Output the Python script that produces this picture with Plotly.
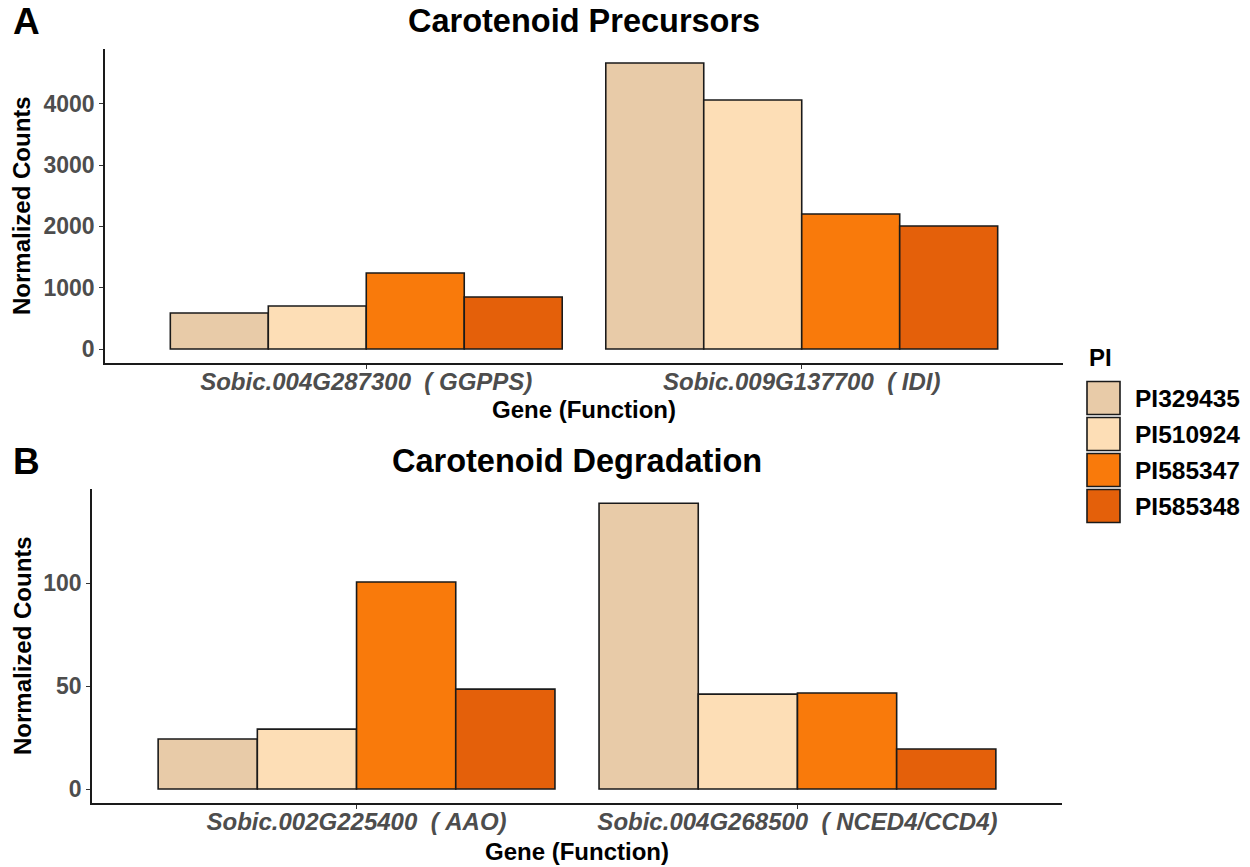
import plotly.graph_objects as go

# Genotypes and their fill colours
pi_lines = ["PI329435", "PI510924", "PI585347", "PI585348"]
pi_colors = ["#E8CBA8", "#FDDEB6", "#F97A0B", "#E4600A"]

# Panel A: carotenoid precursor genes
precursor_genes = ["Sobic.004G287300\u00a0\u00a0(\u00a0GGPPS)", "Sobic.009G137700\u00a0\u00a0(\u00a0IDI)"]
precursor_counts = [
    [587, 4666],   # PI329435
    [701, 4062],   # PI510924
    [1240, 2202],  # PI585347
    [848, 2007],   # PI585348
]

# Panel B: carotenoid degradation genes
degradation_genes = ["Sobic.002G225400\u00a0\u00a0(\u00a0AAO)", "Sobic.004G268500\u00a0\u00a0(\u00a0NCED4/CCD4)"]
degradation_counts = [
    [24.3, 138.8],  # PI329435
    [29.1, 46.1],   # PI510924
    [100.5, 46.6],  # PI585347
    [48.5, 19.4],   # PI585348
]

FONT = "Liberation Sans, Arial, Helvetica, sans-serif"
W, H = 1250, 867


def px(x):
    return x / W


def py(y):
    return 1 - y / H


fig = go.Figure()

for i, name in enumerate(pi_lines):
    fig.add_trace(go.Bar(
        x=precursor_genes, y=precursor_counts[i], name=name,
        marker=dict(color=pi_colors[i], line=dict(color="#1a1a1a", width=1.6)),
        xaxis="x", yaxis="y", showlegend=False, offsetgroup=str(i),
    ))
    fig.add_trace(go.Bar(
        x=degradation_genes, y=degradation_counts[i], name=name,
        marker=dict(color=pi_colors[i], line=dict(color="#1a1a1a", width=1.6)),
        xaxis="x2", yaxis="y2", showlegend=False, offsetgroup=str(i),
    ))


def padded(values):
    top = max(max(v) for v in values)
    return [-0.05 * top, 1.05 * top]


axis_common = dict(
    showline=True, linecolor="#1a1a1a", linewidth=1.6,
    ticks="outside", ticklen=4, tickwidth=1.4, tickcolor="#333333",
    showgrid=False, zeroline=False,
)
y_tickfont = dict(family=FONT, size=23, color="#4D4D4D", weight="bold")
x_tickfont = dict(family=FONT, size=24, color="#4D4D4D", weight="bold", style="italic")

fig.update_layout(
    width=W, height=H,
    margin=dict(l=0, r=0, t=0, b=0),
    paper_bgcolor="white", plot_bgcolor="white",
    barmode="group", bargap=0.1, bargroupgap=0,
    xaxis=dict(domain=[px(105), px(1063)], anchor="y", range=[-0.6, 1.6],
               tickfont=x_tickfont, ticklabelstandoff=-8, **axis_common),
    yaxis=dict(domain=[py(363.3), py(48.7)], anchor="x", range=padded(precursor_counts),
               dtick=1000, tickfont=y_tickfont, **axis_common),
    xaxis2=dict(domain=[px(92), px(1062)], anchor="y2", range=[-0.6, 1.6],
                tickfont=x_tickfont, ticklabelstandoff=-8, **axis_common),
    yaxis2=dict(domain=[py(803.3), py(488.9)], anchor="x2", range=padded(degradation_counts),
                dtick=50, tickfont=y_tickfont, **axis_common),
)

annotations = []


def text(x, y, s, size, angle=0, xanchor="center", color="#000000"):
    annotations.append(dict(
        x=px(x), y=py(y), xref="paper", yref="paper", text=s, showarrow=False,
        xanchor=xanchor, yanchor="middle", textangle=angle,
        font=dict(family=FONT, size=size, color=color, weight="bold"),
    ))


# Panel letters and titles
text(11, 22, "A", 37, xanchor="left")
text(11, 461, "B", 37, xanchor="left")
text(584, 21, "Carotenoid Precursors", 32.5)
text(577, 461, "Carotenoid Degradation", 32.5)

# Axis titles
text(584, 409, "Gene (Function)", 24)
text(577, 851, "Gene (Function)", 24)
text(22, 206, "Normalized Counts", 24, angle=-90)
text(22, 646, "Normalized Counts", 24, angle=-90)

# Legend drawn as swatches with labels
shapes = []
text(1087, 357, "PI", 24, xanchor="left")
for i, (name, col) in enumerate(zip(pi_lines, pi_colors)):
    cy = 398 + i * 36
    shapes.append(dict(
        type="rect", xref="paper", yref="paper",
        x0=px(1087), x1=px(1120), y0=py(cy + 16.5), y1=py(cy - 16.5),
        fillcolor=col, line=dict(color="#1a1a1a", width=1.6),
    ))
    text(1133, cy, name, 24.5, xanchor="left")

fig.update_layout(annotations=annotations, shapes=shapes)

fig.write_html("out.html")
